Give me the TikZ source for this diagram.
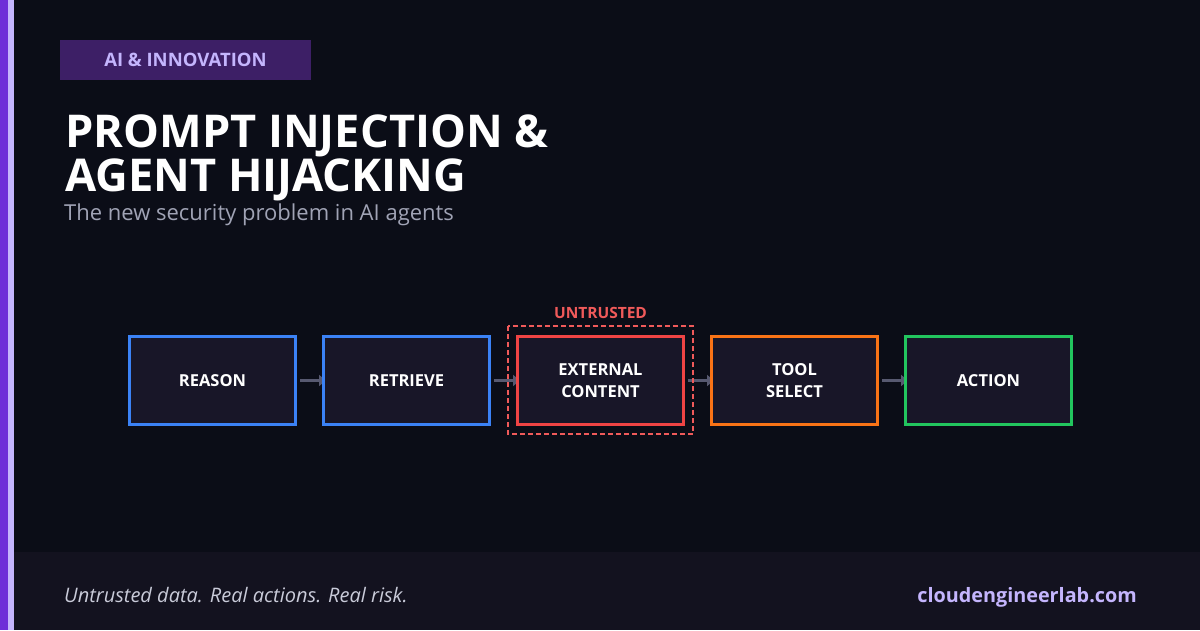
\documentclass[tikz,border=0pt]{standalone}
\usepackage{fontspec}
\setmainfont{Open Sans}
\usetikzlibrary{arrows.meta, positioning}

\definecolor{bgdark}{HTML}{0B0D17}
\definecolor{footbg}{HTML}{13121F}
\definecolor{boxfill}{HTML}{181628}
\definecolor{stripeA}{HTML}{6D2ED8}
\definecolor{lavender}{HTML}{C4B5FD}
\definecolor{tagfill}{HTML}{3D1F66}
\definecolor{subgray}{HTML}{A0A3B5}
\definecolor{footgray}{HTML}{C9CBD9}
\definecolor{arrowgray}{HTML}{575970}
\definecolor{cblue}{HTML}{3B82F6}
\definecolor{cred}{HTML}{EF4444}
\definecolor{corange}{HTML}{F97316}
\definecolor{cgreen}{HTML}{22C55E}
\definecolor{untrusted}{HTML}{F05A5A}

\pgfdeclarelayer{background}
\pgfsetlayers{background,main}

\begin{document}
\begin{tikzpicture}[x=1pt, y=-1pt,
    stage/.style={draw=#1, line width=3pt, fill=boxfill, minimum width=166pt, minimum height=88pt,
        inner sep=0pt, align=center, text=white, font=\bfseries\fontsize{16.5}{22}\selectfont},
    flow/.style={arrowgray, line width=3pt, -{Triangle[length=7pt, width=11pt]}},
    node distance=25pt]
    \useasboundingbox (0,0) rectangle (1200,630);

    % Fond, bande du bas et liseré gauche
    \begin{pgfonlayer}{background}
        \fill[bgdark] (0,0) rectangle (1200,630);
        \fill[footbg] (14,552) rectangle (1200,630);
        \fill[stripeA] (0,0) rectangle (8,630);
        \fill[lavender] (8,0) rectangle (14,630);
    \end{pgfonlayer}

    % Étiquette
    \fill[tagfill] (60,40) rectangle (311,80);
    \node[text=lavender, font=\bfseries\fontsize{18.5}{20}\selectfont] (tag) at (185.5,60) {AI \& INNOVATION};

    % Titre et sous-titre
    \node[anchor=base west, inner sep=0pt, text=white, font=\bfseries\fontsize{45.2}{52}\selectfont] (title1) at (65,147) {PROMPT INJECTION \&};
    \node[anchor=base west, inner sep=0pt, text=white, font=\bfseries\fontsize{45.2}{52}\selectfont] (title2) at (65,191) {AGENT HIJACKING};
    \node[anchor=base west, inner sep=0pt, text=subgray, font=\fontsize{22}{24}\selectfont] (subtitle) at (64,220) {The new security problem in AI agents};

    % Chaîne de l'agent
    \node[stage=cblue] (reason) at (212.5,380.5) {REASON};
    \node[stage=cblue, right=of reason] (retrieve) {RETRIEVE};
    \node[stage=cred, right=of retrieve] (external) {EXTERNAL\\CONTENT};
    \node[stage=corange, right=of external] (tool) {TOOL\\SELECT};
    \node[stage=cgreen, right=of tool] (action) {ACTION};

    % Zone non fiable
    \draw[untrusted, line width=1.5pt, dash pattern=on 5pt off 3pt]
        ([shift={(-8,-9)}]external.north west) rectangle ([shift={(8,8)}]external.south east);
    \node[anchor=base, text=untrusted, font=\bfseries\fontsize{15.5}{16}\selectfont] (untrustedlbl)
        at ([yshift=17pt]external.north) {UNTRUSTED};

    % Flèches (sous les boîtes)
    \begin{pgfonlayer}{background}
        \draw[flow] ([xshift=3pt]reason.east) -- ([xshift=4pt]retrieve.west);
        \draw[flow] ([xshift=3pt]retrieve.east) -- ([xshift=4pt]external.west);
        \draw[flow] ([xshift=3pt]external.east) -- ([xshift=4pt]tool.west);
        \draw[flow] ([xshift=3pt]tool.east) -- ([xshift=4pt]action.west);
    \end{pgfonlayer}

    % Pied de page
    \node[anchor=base west, inner sep=0pt, text=footgray, font=\itshape\fontsize{20}{24}\selectfont] (tagline) at (64,602) {Untrusted data. Real actions. Real risk.};
    \node[anchor=base east, inner sep=0pt, text=lavender, font=\bfseries\fontsize{19.8}{24}\selectfont] (site) at (1137,602) {cloudengineerlab.com};
\end{tikzpicture}
\end{document}
